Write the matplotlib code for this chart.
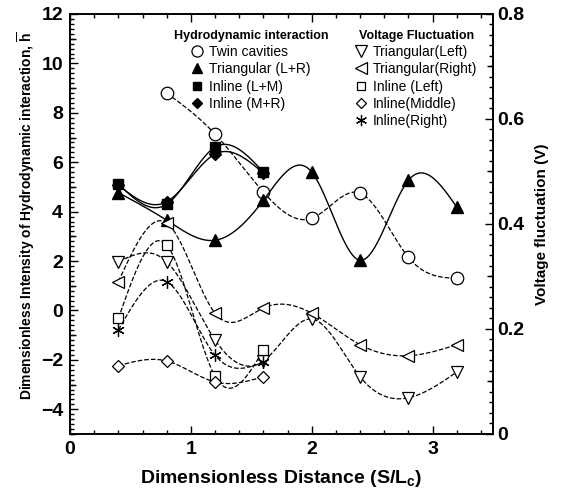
import numpy as np
import matplotlib
matplotlib.use("Agg")
import matplotlib.pyplot as plt
from matplotlib.lines import Line2D
from matplotlib.ticker import MultipleLocator, FixedLocator, FuncFormatter

plt.rcParams['font.family'] = 'Liberation Sans'
plt.rcParams['mathtext.fontset'] = 'custom'
plt.rcParams['mathtext.rm'] = 'Liberation Sans'
plt.rcParams['mathtext.bf'] = 'Liberation Sans:bold'

# spacing S/Lc
x_all = [0.4, 0.8, 1.2, 1.6, 2.0, 2.4, 2.8, 3.2]
x_twin = [0.8, 1.2, 1.6, 2.0, 2.4, 2.8, 3.2]
x_inline = [0.4, 0.8, 1.2, 1.6]

# hydrodynamic interaction (left axis)
h_twin = [8.80, 7.14, 4.79, 3.73, 4.75, 2.15, 1.30]
h_tri = [4.77, 3.65, 2.84, 4.46, 5.60, 2.03, 5.27, 4.18]
h_inline_lm = [5.12, 4.30, 6.61, 5.60]
h_inline_mr = [5.07, 4.40, 6.33, 5.56]

# voltage fluctuation (right axis)
v_tri_left = [0.328, 0.328, 0.179, 0.139, 0.219, 0.109, 0.069, 0.118]
v_tri_right = [0.290, 0.402, 0.230, 0.240, 0.230, 0.170, 0.149, 0.170]
v_in_left = [0.220, 0.360, 0.110, 0.160]
v_in_mid = [0.130, 0.139, 0.099, 0.109]
v_in_right = [0.198, 0.290, 0.150, 0.137]


def smooth(x, y, n=200):
    # natural cubic spline through the points (only for drawing the curve)
    x = np.asarray(x, float)
    y = np.asarray(y, float)
    k = len(x)
    hh = np.diff(x)
    A = np.zeros((k, k))
    b = np.zeros(k)
    A[0, 0] = A[-1, -1] = 1
    for i in range(1, k - 1):
        A[i, i - 1] = hh[i - 1]
        A[i, i] = 2 * (hh[i - 1] + hh[i])
        A[i, i + 1] = hh[i]
        b[i] = 6 * ((y[i + 1] - y[i]) / hh[i] - (y[i] - y[i - 1]) / hh[i - 1])
    M = np.linalg.solve(A, b)
    xs = np.linspace(x[0], x[-1], n)
    idx = np.clip(np.searchsorted(x, xs) - 1, 0, k - 2)
    x0, x1 = x[idx], x[idx + 1]
    hi = x1 - x0
    t0 = x1 - xs
    t1 = xs - x0
    ys = (M[idx] * t0 ** 3 + M[idx + 1] * t1 ** 3) / (6 * hi) \
        + (y[idx] / hi - M[idx] * hi / 6) * t0 \
        + (y[idx + 1] / hi - M[idx + 1] * hi / 6) * t1
    return xs, ys


fig = plt.figure(figsize=(5.62, 4.94), dpi=100)
ax = fig.add_axes([0.1246, 0.1215, 0.7527, 0.8502])
ax2 = ax.twinx()

ms = 8
ax.plot(*smooth(x_twin, h_twin), 'k--', lw=0.9)
ax.plot(x_twin, h_twin, 'o', mfc='white', mec='k', ms=ms + 1, mew=0.9)
ax.plot(*smooth(x_all, h_tri), 'k-', lw=1.0)
ax.plot(x_all, h_tri, '^', color='k', ms=ms)
ax.plot(*smooth(x_inline, h_inline_lm), 'k-', lw=1.0)
ax.plot(x_inline, h_inline_lm, 's', color='k', ms=ms - 1)
ax.plot(*smooth(x_inline, h_inline_mr), 'k-', lw=1.0)
ax.plot(x_inline, h_inline_mr, 'D', color='k', ms=ms - 2)

ax2.plot(*smooth(x_all, v_tri_left), 'k--', lw=0.9)
ax2.plot(x_all, v_tri_left, 'v', mfc='white', mec='k', ms=ms + 1, mew=0.9)
ax2.plot(*smooth(x_all, v_tri_right), 'k--', lw=0.9)
ax2.plot(x_all, v_tri_right, '<', mfc='white', mec='k', ms=ms + 1, mew=0.9)
ax2.plot(*smooth(x_inline, v_in_left), 'k--', lw=0.9)
ax2.plot(x_inline, v_in_left, 's', mfc='white', mec='k', ms=ms - 1, mew=0.9)
ax2.plot(*smooth(x_inline, v_in_mid), 'k--', lw=0.9)
ax2.plot(x_inline, v_in_mid, 'D', mfc='white', mec='k', ms=ms - 2, mew=0.9)
ax2.plot(*smooth(x_inline, v_in_right), 'k--', lw=0.9)
ax2.plot(x_inline, v_in_right, marker=(6, 2, 0), ls='none', color='k', ms=ms + 1, mew=0.9)

# axes
ax.set_xlim(0, 3.5)
ax.set_ylim(-5, 12)
ax2.set_ylim(0, 0.8)
ax.set_xticks([0, 1, 2, 3])
ax.xaxis.set_minor_locator(MultipleLocator(0.2))
ax.set_yticks([-4, -2, 0, 2, 4, 6, 8, 10, 12])
ax.yaxis.set_minor_locator(MultipleLocator(0.2))
ax2.set_yticks([0, 0.2, 0.4, 0.6, 0.8])
ax2.yaxis.set_minor_locator(MultipleLocator(0.02))
ax2.yaxis.set_major_formatter(FuncFormatter(lambda v, p: '0' if v == 0 else '%.1f' % v))

ax.tick_params(axis='both', which='both', direction='in', top=True, right=False, width=1.0)
ax.tick_params(which='major', length=6, labelsize=14, pad=5)
ax.tick_params(which='minor', length=3)
ax2.tick_params(axis='y', which='both', direction='in', width=1.0)
ax2.tick_params(which='major', length=6, labelsize=14, pad=3)
ax2.tick_params(which='minor', length=3)
for lab in ax.get_xticklabels() + ax.get_yticklabels() + ax2.get_yticklabels():
    lab.set_fontweight('bold')

# medium ticks
sec_l = ax.secondary_yaxis('left')
sec_l.yaxis.set_major_locator(FixedLocator([-5, -3, -1, 1, 3, 5, 7, 9, 11]))
sec_l.tick_params(direction='in', length=4.5, width=1.0, labelleft=False)
sec_l.spines['left'].set_visible(False)
sec_r = ax2.secondary_yaxis('right')
sec_r.yaxis.set_major_locator(FixedLocator([0.1, 0.3, 0.5, 0.7]))
sec_r.tick_params(direction='in', length=4.5, width=1.0, labelright=False)
sec_r.spines['right'].set_visible(False)

for a in (ax, ax2):
    for s in a.spines.values():
        s.set_linewidth(1.2)

ax.set_xlabel(r'Dimensionless Distance (S/L$_\mathbf{c}$)', fontsize=14, fontweight='bold', labelpad=7)
ax.set_ylabel(r'Dimensionless Intensity of Hydrodynamic interaction, $\mathbf{\overline{h}}$',
              fontsize=10, fontweight='bold', labelpad=2)
ax.yaxis.set_label_coords(-0.078, 0.52)
ax2.set_ylabel('Voltage fluctuation (V)', fontsize=11, fontweight='bold', labelpad=8)

# legends
h1 = [Line2D([], [], ls='none', marker='o', mfc='white', mec='k', ms=ms, mew=0.9),
      Line2D([], [], ls='none', marker='^', color='k', ms=ms - 1),
      Line2D([], [], ls='none', marker='s', color='k', ms=ms - 2),
      Line2D([], [], ls='none', marker='D', color='k', ms=ms - 3)]
l1 = ['Twin cavities', 'Triangular (L+R)', 'Inline (L+M)', 'Inline (M+R)']
h2 = [Line2D([], [], ls='none', marker='v', mfc='white', mec='k', ms=ms, mew=0.9),
      Line2D([], [], ls='none', marker='<', mfc='white', mec='k', ms=ms, mew=0.9),
      Line2D([], [], ls='none', marker='s', mfc='white', mec='k', ms=ms - 2, mew=0.9),
      Line2D([], [], ls='none', marker='D', mfc='white', mec='k', ms=ms - 3, mew=0.9),
      Line2D([], [], ls='none', marker=(6, 2, 0), color='k', ms=ms, mew=0.9)]
l2 = ['Triangular(Left)', 'Triangular(Right)', 'Inline (Left)', 'Inline(Middle)', 'Inline(Right)']

leg1 = ax2.legend(h1, l1, title='Hydrodynamic interaction', loc='upper left',
                  bbox_to_anchor=(0.245, 0.963), frameon=False, fontsize=10,
                  handlelength=0.8, handletextpad=0.45, labelspacing=0.24, borderpad=0, borderaxespad=0,
                  title_fontproperties={'weight': 'bold', 'size': 9})
ax2.add_artist(leg1)
ax2.legend(h2, l2, title='Voltage Fluctuation', loc='upper left',
           bbox_to_anchor=(0.675, 0.963), frameon=False, fontsize=10,
           handlelength=0.8, handletextpad=0.45, labelspacing=0.24, borderpad=0, borderaxespad=0,
           title_fontproperties={'weight': 'bold', 'size': 9})

fig.savefig('out.png', dpi=100)
